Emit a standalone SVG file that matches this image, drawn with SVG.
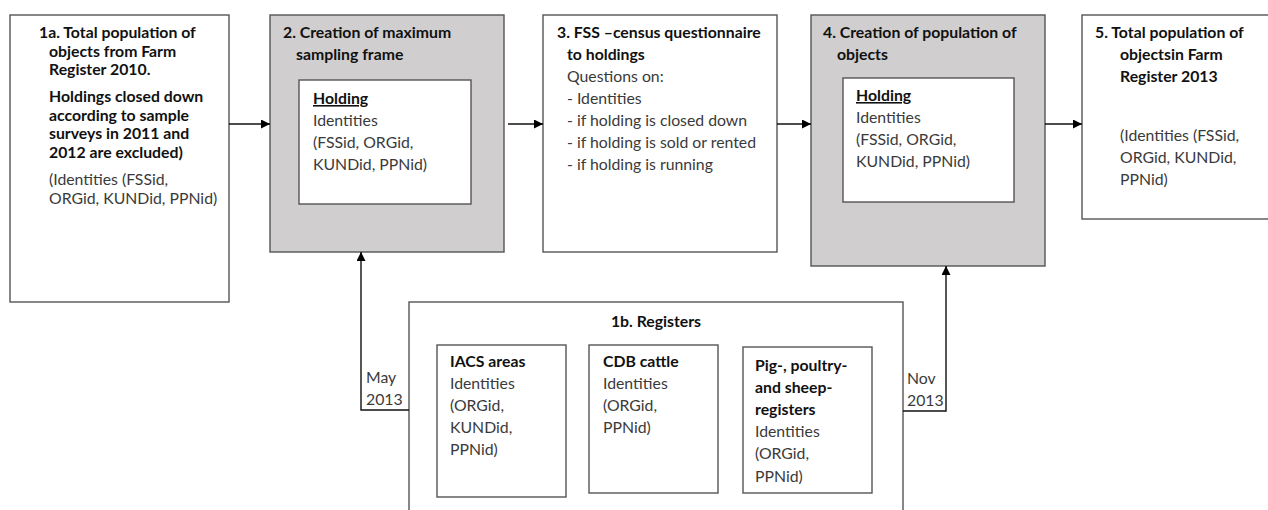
<svg xmlns="http://www.w3.org/2000/svg" width="1268" height="510" viewBox="0 0 1268 510">
<defs>
<marker id="ah" viewBox="0 0 10 10" refX="10" refY="5" markerWidth="9" markerHeight="9" markerUnits="userSpaceOnUse" orient="auto">
<path d="M0,0 L10,5 L0,10 z" fill="#000"/>
</marker>
<style>
text{font-family:Lato,"Liberation Sans",sans-serif;font-size:15.8px;fill:#3a3a3a}
.b{font-weight:bold;fill:#111}
.u{text-decoration:underline}
.box{fill:#fff;stroke:#555;stroke-width:1.4}
.grey{fill:#d0cece;stroke:#555;stroke-width:1.4}
.con{fill:none;stroke:#111;stroke-width:1.4}
</style>
</defs>
<rect width="1268" height="510" fill="#fff"/>

<g id="n1a">
<rect class="box" x="10" y="15" width="219" height="287"/>
<text class="b" x="39" y="38">1a. Total population of</text>
<text class="b" x="49" y="56.5">objects from Farm</text>
<text class="b" x="49" y="75">Register 2010.</text>
<text class="b" x="49" y="102">Holdings closed down</text>
<text class="b" x="49" y="120.5">according to sample</text>
<text class="b" x="49" y="139">surveys in 2011 and</text>
<text class="b" x="49" y="157.5">2012 are excluded)</text>
<text x="49" y="185">(Identities (FSSid,</text>
<text x="49" y="203.5">ORGid, KUNDid, PPNid)</text>
</g>

<g id="n2">
<rect class="grey" x="270" y="15" width="234" height="237"/>
<text class="b" x="283" y="38">2. Creation of maximum</text>
<text class="b" x="296" y="60">sampling frame</text>
<rect class="box" x="299" y="80" width="172" height="124"/>
<text class="b u" x="313" y="104">Holding</text>
<text x="313" y="126">Identities</text>
<text x="313" y="148">(FSSid, ORGid,</text>
<text x="313" y="170">KUNDid, PPNid)</text>
</g>

<g id="n3">
<rect class="box" x="543" y="15" width="234" height="237"/>
<text class="b" x="557" y="38">3. FSS –census questionnaire</text>
<text class="b" x="567" y="60">to holdings</text>
<text x="567" y="82">Questions on:</text>
<text x="567" y="104">- Identities</text>
<text x="567" y="126">- if holding is closed down</text>
<text x="567" y="148">- if holding is sold or rented</text>
<text x="567" y="170">- if holding is running</text>
</g>

<g id="n4">
<rect class="grey" x="811" y="15" width="234" height="251"/>
<text class="b" x="823" y="38">4. Creation of population of</text>
<text class="b" x="837" y="60">objects</text>
<rect class="box" x="843" y="78" width="171" height="124"/>
<text class="b u" x="856" y="101">Holding</text>
<text x="856" y="123">Identities</text>
<text x="856" y="145">(FSSid, ORGid,</text>
<text x="856" y="167">KUNDid, PPNid)</text>
</g>

<g id="n5">
<rect class="box" x="1082" y="15" width="200" height="204"/>
<text class="b" x="1095" y="38">5. Total population of</text>
<text class="b" x="1120" y="60">objectsin Farm</text>
<text class="b" x="1120" y="82">Register 2013</text>
<text x="1120" y="141">(Identities (FSSid,</text>
<text x="1120" y="163">ORGid, KUNDid,</text>
<text x="1120" y="185">PPNid)</text>
</g>

<g id="n1b">
<rect class="box" x="409" y="302" width="494" height="230"/>
<text class="b" x="656" y="327" text-anchor="middle">1b. Registers</text>
<g id="iacs">
<rect class="box" x="437" y="345" width="129" height="152"/>
<text class="b" x="450" y="367">IACS areas</text>
<text x="450" y="389">Identities</text>
<text x="450" y="411">(ORGid,</text>
<text x="450" y="433">KUNDid,</text>
<text x="450" y="455">PPNid)</text>
</g>
<g id="cdb">
<rect class="box" x="589" y="345" width="129" height="148"/>
<text class="b" x="603" y="367">CDB cattle</text>
<text x="603" y="389">Identities</text>
<text x="603" y="411">(ORGid,</text>
<text x="603" y="433">PPNid)</text>
</g>
<g id="pig">
<rect class="box" x="743" y="347" width="129" height="146"/>
<text class="b" x="755" y="371">Pig-, poultry-</text>
<text class="b" x="755" y="393">and sheep-</text>
<text class="b" x="755" y="415">registers</text>
<text x="755" y="437">Identities</text>
<text x="755" y="459">(ORGid,</text>
<text x="755" y="482">PPNid)</text>
</g>
</g>

<g id="connectors">
<line class="con" x1="229" y1="124" x2="270" y2="124" marker-end="url(#ah)"/>
<line class="con" x1="508" y1="124" x2="543" y2="124" marker-end="url(#ah)"/>
<line class="con" x1="777" y1="124" x2="811" y2="124" marker-end="url(#ah)"/>
<line class="con" x1="1045" y1="124" x2="1082" y2="124" marker-end="url(#ah)"/>
<polyline class="con" points="409,410 361,410 361,252" marker-end="url(#ah)"/>
<polyline class="con" points="903,411 946,411 946,266" marker-end="url(#ah)"/>
<text x="366" y="383">May</text>
<text x="366" y="405">2013</text>
<text x="907" y="384">Nov</text>
<text x="907" y="406">2013</text>
</g>
</svg>
